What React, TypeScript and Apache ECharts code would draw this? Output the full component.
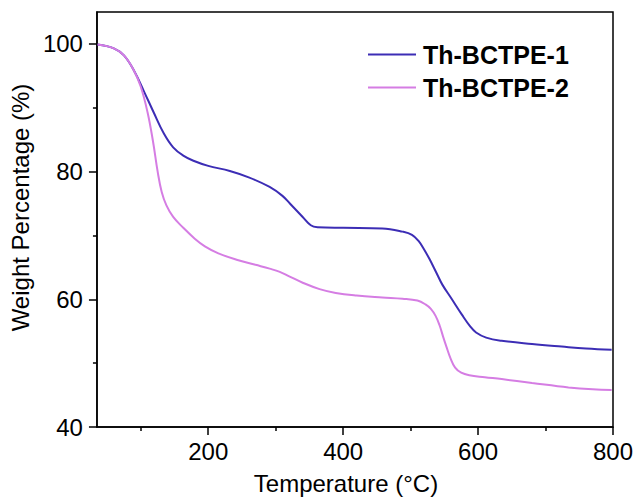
import React, { useEffect, useRef } from "react";
import * as echarts from "echarts";

const seriesNames = ["Th-BCTPE-1", "Th-BCTPE-2"];

const temp1 = [36, 60, 75, 90, 105, 119, 134, 148, 163, 178, 200, 232, 260, 291, 310, 321, 340, 352, 362, 400, 458, 488, 502, 512, 520, 528, 538, 547, 560, 576, 588, 597, 612, 635, 680, 724, 760, 798];
const weight1 = [99.9, 99.3, 98.2, 95.8, 92.5, 89.3, 86.0, 83.8, 82.5, 81.7, 80.9, 80.1, 79.1, 77.6, 76.2, 75.0, 72.9, 71.6, 71.3, 71.2, 71.1, 70.6, 70.1, 69.1, 67.8, 66.3, 64.2, 62.3, 60.2, 57.6, 55.8, 54.8, 54.0, 53.5, 53.0, 52.6, 52.3, 52.1];

const temp2 = [36, 60, 75, 89, 100, 110, 118, 125, 131, 138, 148, 163, 180, 195, 215, 242, 270, 291, 306, 320, 340, 365, 389, 420, 458, 488, 510, 522, 530, 537, 543, 548, 553, 559, 566, 575, 587, 610, 635, 680, 734, 770, 798];
const weight2 = [99.9, 99.3, 98.2, 96.0, 93.3, 89.3, 84.8, 80.0, 76.8, 74.7, 72.9, 71.2, 69.5, 68.3, 67.2, 66.2, 65.4, 64.8, 64.3, 63.6, 62.6, 61.6, 61.0, 60.6, 60.3, 60.1, 59.8, 59.2, 58.5, 57.4, 55.9, 54.2, 52.6, 50.8, 49.3, 48.5, 48.1, 47.8, 47.5, 46.9, 46.2, 45.9, 45.8];

const xMajorTicks = [200, 400, 600, 800];
const xMinorTicks = [100, 300, 500, 700];
const yMajorTicks = [40, 60, 80, 100];
const yMinorTicks = [50, 70, 90];

const FONT = "'Liberation Sans', Arial, Helvetica, sans-serif";

export default function App() {
  const ref = useRef<HTMLDivElement>(null);
  useEffect(() => {
    if (!ref.current) return;
    const chart = echarts.init(ref.current, undefined, { renderer: "svg" });
    const zip = (xs: number[], ys: number[]) => xs.map((x, i) => [x, ys[i]]);
    const axisLineStyle = { color: "#000", width: 1.5 };
    const xBase = { type: "value" as const, min: 35, max: 800, gridIndex: 0, splitLine: { show: false } };
    const yBase = { type: "value" as const, min: 40, max: 105, gridIndex: 0, splitLine: { show: false } };
    chart.setOption({
      animation: false,
      backgroundColor: "#fff",
      grid: {
        left: 94,
        right: 24,
        top: 12,
        bottom: 70,
        show: true,
        borderColor: "#000",
        borderWidth: 1.5,
        backgroundColor: "transparent",
      },
      legend: {
        orient: "vertical",
        left: 363,
        top: 37,
        icon: "rect",
        itemWidth: 48,
        itemHeight: 2,
        itemGap: 8,
        data: seriesNames,
        textStyle: {
          fontFamily: FONT,
          fontSize: 25,
          fontWeight: "bold",
          color: "#000",
          padding: [0, 0, 0, 2],
        },
      },
      xAxis: [
        {
          ...xBase,
          position: "bottom",
          axisLine: { show: true, lineStyle: axisLineStyle },
          axisTick: { show: true, inside: false, length: 8, customValues: xMajorTicks, lineStyle: axisLineStyle },
          axisLabel: { show: true, customValues: xMajorTicks, margin: 12, fontSize: 24, fontFamily: FONT, color: "#000" },
          name: "Temperature (°C)",
          nameLocation: "middle",
          nameGap: 44,
          nameTextStyle: { fontSize: 24, fontFamily: FONT, color: "#000", padding: [0, 18, 0, 0] },
        },
        {
          ...xBase,
          position: "bottom",
          axisLine: { show: false },
          axisTick: { show: true, inside: false, length: 4, customValues: xMinorTicks, lineStyle: axisLineStyle },
          axisLabel: { show: false },
        },
      ],
      yAxis: [
        {
          ...yBase,
          position: "left",
          axisLine: { show: true, lineStyle: axisLineStyle },
          axisTick: { show: true, inside: false, length: 8, customValues: yMajorTicks, lineStyle: axisLineStyle },
          axisLabel: { show: true, customValues: yMajorTicks, margin: 14, fontSize: 24, fontFamily: FONT, color: "#000" },
          name: "Weight Percentage (%)",
          nameLocation: "middle",
          nameGap: 55,
          nameTextStyle: { fontSize: 24, fontFamily: FONT, color: "#000", padding: [0, 0, 0, 24] },
        },
        {
          ...yBase,
          position: "left",
          axisLine: { show: false },
          axisTick: { show: true, inside: false, length: 4, customValues: yMinorTicks, lineStyle: axisLineStyle },
          axisLabel: { show: false },
        },
      ],
      series: [
        {
          name: seriesNames[0],
          type: "line",
          xAxisIndex: 0,
          yAxisIndex: 0,
          data: zip(temp1, weight1),
          symbol: "none",
          smooth: 0.4,
          lineStyle: { color: "#3c2db5", width: 2 },
          itemStyle: { color: "#3c2db5" },
        },
        {
          name: seriesNames[1],
          type: "line",
          xAxisIndex: 0,
          yAxisIndex: 0,
          data: zip(temp2, weight2),
          symbol: "none",
          smooth: 0.4,
          lineStyle: { color: "#d57de3", width: 2 },
          itemStyle: { color: "#d57de3" },
        },
      ],
    });
    return () => chart.dispose();
  }, []);
  return (
    <div
      ref={ref}
      style={{ position: "fixed", left: 0, top: 0, width: 637, height: 500, background: "#fff" }}
    />
  );
}
